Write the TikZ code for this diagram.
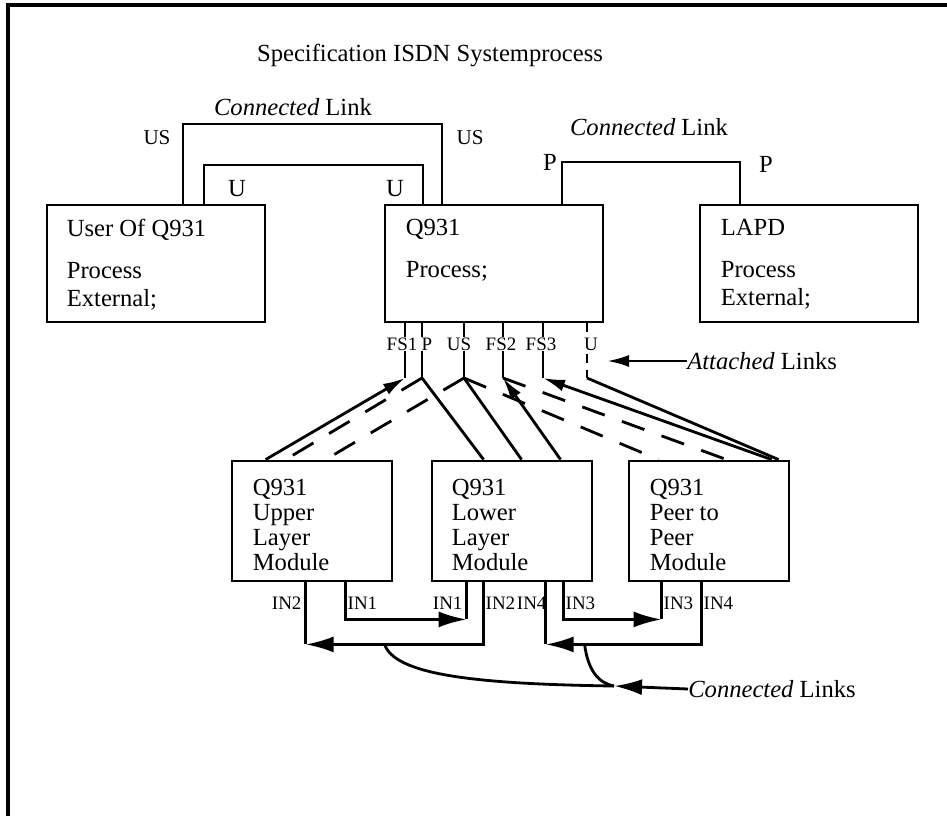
\documentclass[tikz,border=0pt]{standalone}
\usepackage{fontspec}
\setmainfont{Liberation Serif}
\usetikzlibrary{arrows.meta,positioning,calc}

\begin{document}
\begin{tikzpicture}[x=0.025cm,y=-0.025cm,
    box/.style={draw,line width=2pt,minimum width=5.45cm,minimum height=2.925cm,inner sep=0pt},
    modbox/.style={draw,line width=2pt,minimum width=4cm,minimum height=3cm,inner sep=0pt},
    txt/.style={align=left,font=\fontsize{17.5}{19.9}\selectfont,inner sep=0pt,anchor=north west},
    mtxt/.style={align=left,font=\fontsize{17.5}{17.8}\selectfont,inner sep=0pt,anchor=north west},
    big/.style={font=\fontsize{17.5}{19}\selectfont,inner sep=0pt},
    lbl/.style={font=\fontsize{13.5}{15}\selectfont,inner sep=0.6pt},
    link/.style={line width=2pt},
    dlink/.style={line width=2pt,dash pattern=on 17pt off 13pt},
    tip/.style={-{Latex[length=5.5mm,width=3mm]}},
    bigtip/.style={-{Latex[length=7mm,width=4mm]}}
  ]
  \useasboundingbox (0,0) rectangle (947,816);
  \draw[line width=2.4pt] (8,816) -- (8,5) -- (947,5);

  \node[big] (title) at (430,55) {Specification ISDN Systemprocess};

  % processes
  \node[box] (user) at (156,263.5) {};
  \node[box] (q931) at (494,263.5) {};
  \node[box] (lapd) at (809,263.5) {};
  \node[txt] (usertxt) at ($(user.north west)+(21,15)$) {User Of Q931\\[0.35cm]Process\\External;};
  \node[txt] (q931txt) at ($(q931.north west)+(22,15)$) {Q931\\[0.35cm]Process;};
  \node[txt] (lapdtxt) at ($(lapd.north west)+(22,15)$) {LAPD\\[0.35cm]Process\\External;};

  % connected links on top
  \coordinate (user-us) at (183,205);
  \coordinate (user-u) at (204,205);
  \coordinate (q-u) at (423,205);
  \coordinate (q-us) at (442,205);
  \coordinate (q-p) at (562,205);
  \coordinate (lapd-p) at (740,205);
  \draw[link] (user-us) -- ++(0,-81) -| (q-us);
  \draw[link] (user-u) -- ++(0,-40) -| (q-u);
  \draw[link] (q-p) -- ++(0,-43) -| (lapd-p);
  \node[big] (cl1) at (293,107) {{\itshape Connected} Link};
  \node[big] (cl2) at (649,127) {{\itshape Connected} Link};
  \node[lbl,font=\fontsize{15}{16}\selectfont] (us1) at (157,138) {US};
  \node[lbl,font=\fontsize{15}{16}\selectfont] (us2) at (470,138) {US};
  \node[big] (u1) at (237,189) {U};
  \node[big] (u2) at (395,189) {U};
  \node[big] (p1) at (550,162) {P};
  \node[big] (p2) at (766,164) {P};

  % attached links below Q931
  \coordinate (fs1) at (405,378);
  \coordinate (pp) at (422,378);
  \coordinate (usb) at (464,378);
  \coordinate (fs2) at (503,378);
  \coordinate (fs3) at (543,378);
  \coordinate (ub) at (587,378);
  \foreach \s in {fs1,pp,usb,fs2,fs3}
    \draw[link] (q931.south -| \s) -- (\s);
  \draw[line width=2pt,dash pattern=on 6pt off 5pt] (q931.south -| ub) -- (ub);
  \node[lbl,fill=white] (fs1l) at (402,344) {FS1};
  \node[lbl,fill=white] (ppl) at (427,344) {P};
  \node[lbl,fill=white] (usl) at (459,344) {US};
  \node[lbl,fill=white] (fs2l) at (501,344) {FS2};
  \node[lbl,fill=white] (fs3l) at (541,344) {FS3};
  \node[lbl,fill=white] (ubl) at (591,344) {U};

  \node[big,anchor=west] (alinks) at (687,361) {{\itshape Attached} Links};
  \coordinate (atip) at (607,361);
  \draw[link,tip] (alinks.west) -- (atip);

  % modules
  \node[modbox] (upper) at (312,521) {};
  \node[modbox] (lower) at (512,521) {};
  \node[modbox] (peer) at (709,521) {};
  \node[mtxt] (uppertxt) at ($(upper.north west)+(22,19)$) {Q931\\Upper\\Layer\\Module};
  \node[mtxt] (lowertxt) at ($(lower.north west)+(21,19)$) {Q931\\Lower\\Layer\\Module};
  \node[mtxt] (peertxt) at ($(peer.north west)+(22,19)$) {Q931\\Peer to\\Peer\\Module};

  \draw[link,tip] ($(upper.north west)+(35,0)$) -- (fs1);
  \draw[dlink] (pp) -- ($(upper.north west)+(55,0)$);
  \draw[link] (pp) -- ($(lower.north west)+(53,0)$);
  \draw[dlink] (usb) -- ($(upper.north west)+(95,0)$);
  \draw[link] (usb) -- ($(lower.north west)+(91,0)$);
  \draw[dlink] (usb) -- ($(peer.north west)+(31,0)$);
  \draw[link,tip] ($(lower.north west)+(130,0)$) -- (fs2);
  \draw[dlink] (fs2) -- ($(peer.north west)+(99,0)$);
  \draw[link,tip] ($(peer.north west)+(144,0)$) -- (fs3);
  \draw[link] (ub) -- ($(peer.north west)+(151,0)$);

  % connected links between modules
  \coordinate (up-in2) at ($(upper.south west)+(75,0)$);
  \coordinate (up-in1) at ($(upper.south west)+(115,0)$);
  \coordinate (lo-in1) at ($(lower.south west)+(36,0)$);
  \coordinate (lo-in2) at ($(lower.south west)+(53,0)$);
  \coordinate (lo-in4) at ($(lower.south west)+(115,0)$);
  \coordinate (lo-in3) at ($(lower.south west)+(133,0)$);
  \coordinate (pe-in3) at ($(peer.south west)+(34,0)$);
  \coordinate (pe-in4) at ($(peer.south west)+(74,0)$);
  \coordinate (c1) at ($(lo-in1)+(0,37)$);
  \coordinate (c2) at ($(up-in2)+(0,62)$);
  \coordinate (c3) at ($(pe-in3)+(0,37)$);
  \coordinate (c4) at ($(lo-in4)+(0,62)$);
  \draw[link,bigtip] (up-in1) |- (c1);
  \draw[link] (c1) -- (lo-in1);
  \draw[link,bigtip] (lo-in2) |- (c2);
  \draw[link] (c2) -- (up-in2);
  \draw[link,bigtip] (lo-in3) |- (c3);
  \draw[link] (c3) -- (pe-in3);
  \draw[link,bigtip] (pe-in4) |- (c4);
  \draw[link] (c4) -- (lo-in4);

  \node[lbl,anchor=east] (in2a) at ($(up-in2)+(-3,21)$) {IN2};
  \node[lbl,anchor=west] (in1a) at ($(up-in1)+(1,21)$) {IN1};
  \node[lbl,anchor=east] (in1b) at ($(lo-in1)+(-3,21)$) {IN1};
  \node[lbl,anchor=west] (in2b) at ($(lo-in2)+(1,21)$) {IN2};
  \node[lbl,anchor=east] (in4b) at ($(lo-in4)+(2,21)$) {IN4};
  \node[lbl,anchor=west] (in3b) at ($(lo-in3)+(1,21)$) {IN3};
  \node[lbl,anchor=west] (in3c) at ($(pe-in3)+(1,21)$) {IN3};
  \node[lbl,anchor=west] (in4c) at ($(pe-in4)+(1,21)$) {IN4};

  \node[big,anchor=west] (clinks) at (688,689) {{\itshape Connected} Links};
  \coordinate (jn) at (614,686);
  \coordinate (k1) at ($(c2)+(79,0)$);
  \coordinate (k2) at ($(c4)+(39,0)$);
  \draw[link,bigtip] (clinks.west) -- (jn);
  \draw[link] (jn) .. controls (470,684) and (395,674) .. (k1);
  \draw[link] (jn) .. controls (598,683) and (588,670) .. (k2);
\end{tikzpicture}
\end{document}
